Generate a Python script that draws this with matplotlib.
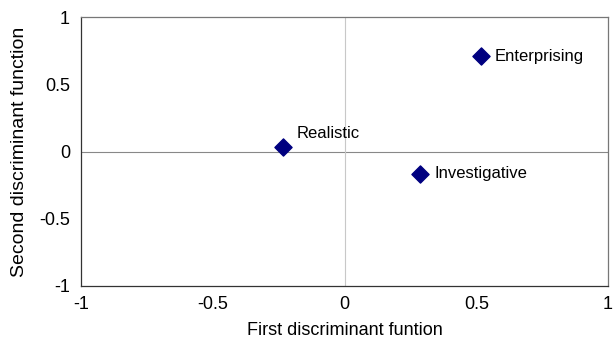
import matplotlib
matplotlib.use("Agg")
import matplotlib.pyplot as plt

plt.rcParams['font.family'] = ['Liberation Sans', 'DejaVu Sans']

labels = ["Realistic", "Investigative", "Enterprising"]
x_vals = [-0.233, 0.287, 0.518]
y_vals = [0.035, -0.167, 0.71]
ticks = [-1, -0.5, 0, 0.5, 1]
tick_labels = ["-1", "-0.5", "0", "0.5", "1"]

fig = plt.figure(figsize=(6.16, 3.46), dpi=100)
ax = fig.add_axes([81/616, 1 - 286/346, (608-81)/616, (286-17)/346])
ax.set_xlim(-1, 1)
ax.set_ylim(-1, 1)
ax.axhline(0, color='#888888', lw=0.8, zorder=1)
ax.axvline(0, color='#c8c8c8', lw=0.8, zorder=1)
ax.scatter(x_vals, y_vals, marker='D', s=76, color='#000080', zorder=3)

offsets = {"Realistic": (10, 9.5), "Investigative": (10, 0), "Enterprising": (9.5, 0)}
for lab, x, y in zip(labels, x_vals, y_vals):
    dx, dy = offsets[lab]
    ax.annotate(lab, (x, y), xytext=(dx, dy), textcoords='offset points',
                ha='left', va='center', fontsize=12)

ax.set_xticks(ticks)
ax.set_xticklabels(tick_labels)
ax.set_yticks(ticks)
ax.set_yticklabels(tick_labels)
ax.tick_params(length=0, labelsize=13, pad=7)
ax.tick_params(axis='y', pad=8)
ax.set_xlabel("First discriminant funtion", fontsize=13, labelpad=7)
ax.set_ylabel("Second discriminant function", fontsize=14, labelpad=8)
for side in ['left', 'bottom']:
    ax.spines[side].set_color('#333333')
for side in ['top', 'right']:
    ax.spines[side].set_color('#777777')
for s in ax.spines.values():
    s.set_linewidth(0.9)

fig.savefig("out.png", dpi=100)
